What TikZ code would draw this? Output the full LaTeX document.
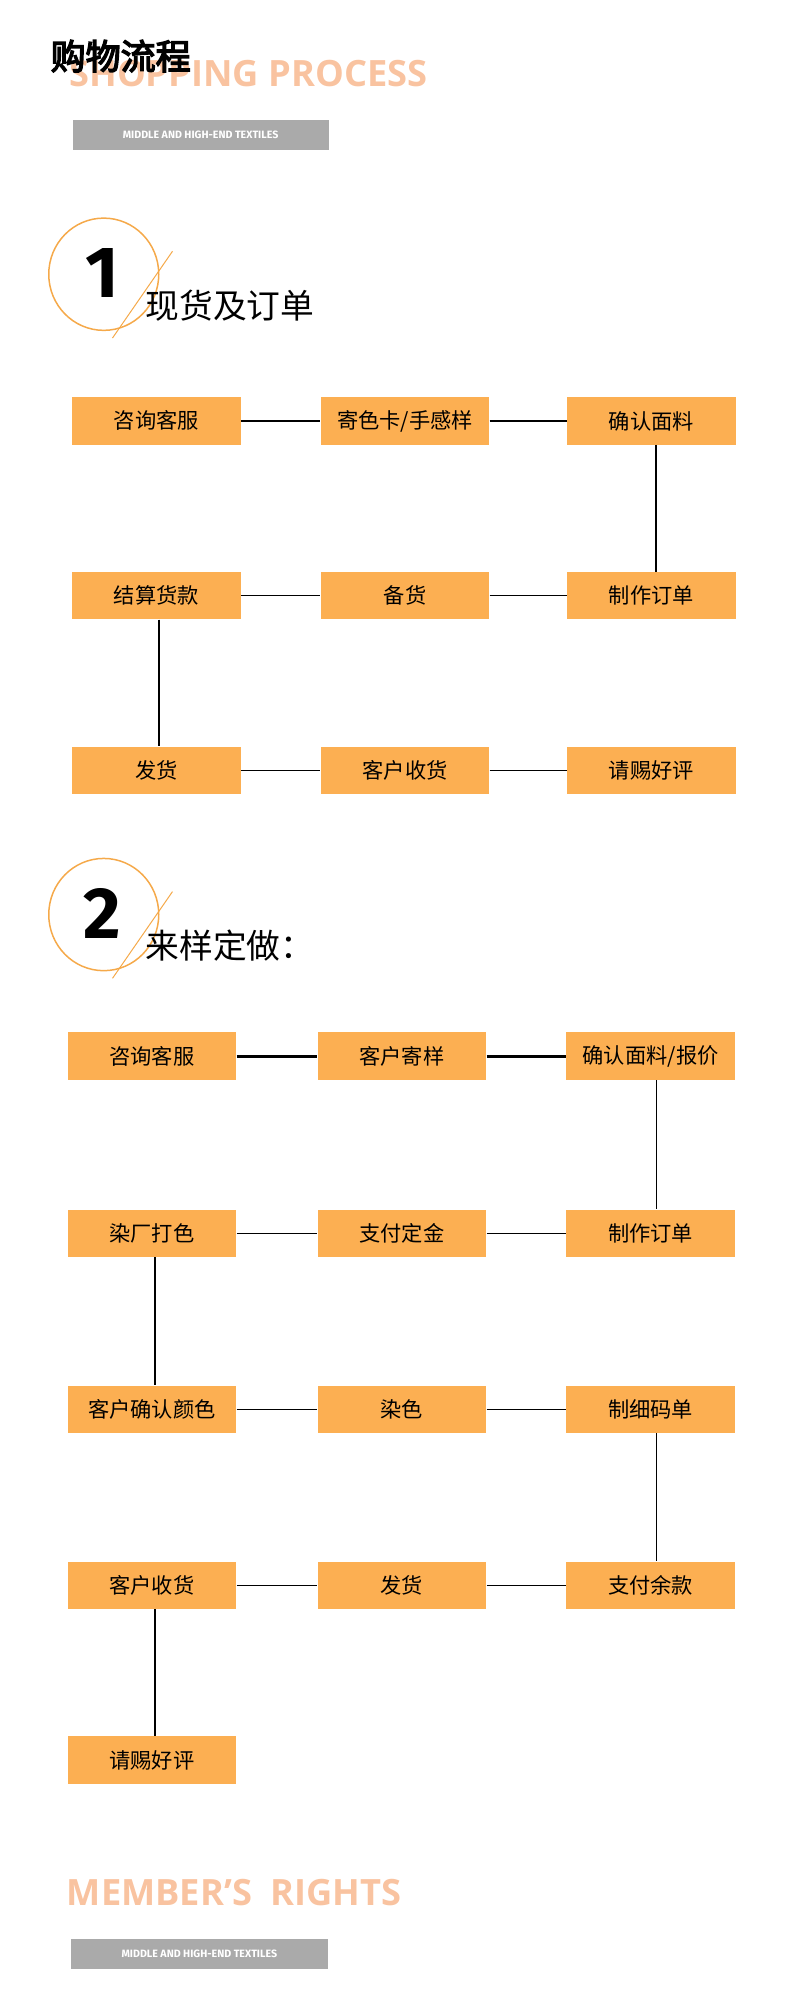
\documentclass[tikz,border=0pt]{standalone}
\usepackage{fontspec}
\setmainfont{Fira Sans}
\newfontfamily\headf{Open Sans}
\newfontfamily\cjk{Noto Sans CJK SC}
\newfontfamily\cjkb{Noto Sans CJK SC}[FakeBold=4]
\definecolor{boxc}{HTML}{FCAF52}
\definecolor{ghost}{HTML}{F9C3A0}
\definecolor{ring}{HTML}{F5A94A}
\definecolor{greyb}{HTML}{AAAAAA}
\begin{document}
\begin{tikzpicture}[x=1pt,y=-1.0204pt,
 bx/.style={fill=boxc,minimum width=135pt,minimum height=38pt,inner sep=0pt,font=\cjk\fontsize{17}{17}\selectfont},
 ln/.style={draw=black,line width=1.2pt},
 gh/.style={anchor=west,text=ghost,font=\headf\fontsize{29}{30}\selectfont\bfseries},
 tag/.style={fill=greyb,minimum width=205pt,minimum height=24pt,inner sep=0pt,text=white,font=\fontsize{8.5}{9}\selectfont\bfseries}]
\useasboundingbox (0,0) rectangle (640,1568);
\node[gh] (sp) at (52,58) {SHOPPING PROCESS};
\node[anchor=west,font=\cjkb\fontsize{28}{30}\selectfont] (tt) at (37,44) {购物流程};
\node[tag] (g1) at (160.5,106) {MIDDLE AND HIGH-END TEXTILES};
% section 1 header
\draw[ring,line width=1.2pt] (83,215) circle (44);
\draw[ring,line width=0.8pt] (138,197) -- (90,265);
\node[font=\fontsize{58}{58}\selectfont\bfseries] (n1) at (82,214) {1};
\node[anchor=west,font=\cjk\fontsize{27}{28}\selectfont] (h1) at (113,240) {现货及订单};
% section 1 boxes
\node[bx] (a1) at (125,330) {咨询客服};
\node[bx] (a2) at (324,330) {寄色卡/手感样};
\node[bx] (a3) at (521,330) {确认面料};
\node[bx] (b1) at (125,467) {结算货款};
\node[bx] (b2) at (324,467) {备货};
\node[bx] (b3) at (521,467) {制作订单};
\node[bx] (c1) at (125,604) {发货};
\node[bx] (c2) at (324,604) {客户收货};
\node[bx] (c3) at (521,604) {请赐好评};
\draw[ln] (a1)--(a2) (a2)--(a3) (b1)--(b2) (b2)--(b3) (c1)--(c2) (c2)--(c3);
\draw[ln,line width=1.8pt] (a3.south-|525,0)--(b3.north-|525,0);
\draw[ln] (b1.south-|127,0)--(c1.north-|127,0);
% section 2 header
\draw[ring,line width=1.2pt] (83,717) circle (44);
\draw[ring,line width=0.8pt] (138,699) -- (90,767);
\node[font=\fontsize{58}{58}\selectfont\bfseries] (n2) at (82,716) {2};
\node[anchor=west,font=\cjk\fontsize{27}{28}\selectfont] (h2) at (113,741) {来样定做：};
% section 2 boxes
\node[bx] (d1) at (121.5,828) {咨询客服};
\node[bx] (d2) at (321.5,828) {客户寄样};
\node[bx] (d3) at (520.5,828) {确认面料/报价};
\node[bx] (e1) at (121.5,967) {染厂打色};
\node[bx] (e2) at (321.5,967) {支付定金};
\node[bx] (e3) at (520.5,967) {制作订单};
\node[bx] (f1) at (121.5,1105) {客户确认颜色};
\node[bx] (f2) at (321.5,1105) {染色};
\node[bx] (f3) at (520.5,1105) {制细码单};
\node[bx] (g1b) at (121.5,1243) {客户收货};
\node[bx] (g2) at (321.5,1243) {发货};
\node[bx] (g3) at (520.5,1243) {支付余款};
\node[bx] (h1b) at (121.5,1380) {请赐好评};
\draw[draw=black,line width=2.2pt] (d1)--(d2) (d2)--(d3);
\draw[ln] (e1)--(e2) (e2)--(e3) (f1)--(f2) (f2)--(f3) (g1b)--(g2) (g2)--(g3);
\draw[ln] (d3.south-|525,0)--(e3.north-|525,0);
\draw[ln] (e1.south-|124,0)--(f1.north-|124,0);
\draw[ln] (f3.south-|525,0)--(g3.north-|525,0);
\draw[ln] (g1b.south-|124,0)--(h1b.north-|124,0);
% footer
\node[gh] (mr) at (50,1484) {MEMBER’S\ \ RIGHTS};
\node[tag] (g2t) at (159.5,1532) {MIDDLE AND HIGH-END TEXTILES};
\end{tikzpicture}
\end{document}
